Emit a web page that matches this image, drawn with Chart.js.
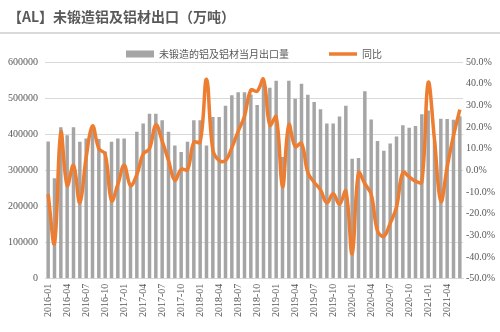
<!DOCTYPE html>
<html>
<head>
<meta charset="utf-8">
<script src="https://cdn.jsdelivr.net/npm/chart.js@4.4.1/dist/chart.umd.min.js"></script>
<style>
html,body{margin:0;padding:0;background:#fff;}
#wrap{width:500px;height:332px;position:relative;}
</style>
</head>
<body>
<div id="wrap"><canvas id="c" width="500" height="332"></canvas></div>
<script>
// ---- data ----
const chartTitle = '【AL】未锻造铝及铝材出口（万吨）';
const barLabel = '未锻造的铝及铝材当月出口量';
const lineLabel = '同比';

const months = [
  '2016-01','2016-02','2016-03','2016-04','2016-05','2016-06','2016-07','2016-08','2016-09','2016-10','2016-11','2016-12',
  '2017-01','2017-02','2017-03','2017-04','2017-05','2017-06','2017-07','2017-08','2017-09','2017-10','2017-11','2017-12',
  '2018-01','2018-02','2018-03','2018-04','2018-05','2018-06','2018-07','2018-08','2018-09','2018-10','2018-11','2018-12',
  '2019-01','2019-02','2019-03','2019-04','2019-05','2019-06','2019-07','2019-08','2019-09','2019-10','2019-11','2019-12',
  '2020-01','2020-02','2020-03','2020-04','2020-05','2020-06','2020-07','2020-08','2020-09','2020-10','2020-11','2020-12',
  '2021-01','2021-02','2021-03','2021-04','2021-05','2021-06'
];

const exportVolume = [
  380000, 278000, 419000, 397000, 419000, 379000, 388000, 415000, 387000, 352000, 379000, 388000,
  388000, 260000, 407000, 430000, 457000, 457000, 439000, 407000, 369000, 351000, 379000, 439000,
  439000, 369000, 448000, 448000, 479000, 508000, 516000, 516000, 510000, 481000, 538000, 529000,
  548000, 337000, 548000, 498000, 540000, 509000, 489000, 469000, 430000, 430000, 449000, 479000,
  332000, 334000, 519000, 441000, 381000, 354000, 374000, 394000, 425000, 418000, 423000, 455000,
  466000, 380000, 443000, 442000, 440000, 450000
];

const yoyPct = [
  -11.0, -33.6, 17.5, -7.0, 2.3, -15.0, 6.0, 20.5, 10.0, 7.5, -14.0, -6.5,
  2.3, -7.0, -2.0, 7.5, 10.0, 21.0, 13.5, 4.5, -4.6, 0.5, 0.3, 13.0,
  13.0, 42.0, 9.5, 4.5, 4.5, 10.5, 18.0, 25.0, 37.0, 36.5, 42.0, 20.8,
  24.7, -7.7, 21.0, 11.0, 12.5, -1.0, -5.5, -9.0, -15.0, -10.8, -15.7, -9.6,
  -38.5, -1.2, -6.2, -11.0, -28.0, -30.4, -24.5, -17.0, -1.0, -3.0, -5.0, -5.4,
  40.5, 14.0, -14.3, 1.5, 16.0, 28.0
];

const leftAxis = { min: 0, max: 600000, step: 100000 };
const rightAxis = { min: -50, max: 50, step: 10 };
const labelEvery = 3;

// ---- styles ----
const GREY_BAR = '#a5a5a5';
const ORANGE = '#ed7d31';
const TEXT = '#595959';
const GRID = '#d9d9d9';
const SERIF = '"Liberation Serif", "Times New Roman", serif';
const CJK = '"Noto Sans CJK SC", "Noto Sans", sans-serif';

const separator = {
  id: 'separator',
  beforeDraw(chart) {
    const ctx = chart.ctx;
    ctx.save();
    ctx.fillStyle = '#ffffff';
    ctx.fillRect(0, 0, chart.width, chart.height);
    ctx.strokeStyle = GRID;
    ctx.lineWidth = 2;
    ctx.beginPath();
    ctx.moveTo(0, 33);
    ctx.lineTo(chart.width, 33);
    ctx.stroke();
    ctx.restore();
  }
};

new Chart(document.getElementById('c'), {
  type: 'bar',
  data: {
    labels: months,
    datasets: [
      {
        type: 'bar',
        label: barLabel,
        data: exportVolume,
        backgroundColor: GREY_BAR,
        borderWidth: 0,
        yAxisID: 'y',
        categoryPercentage: 1.0,
        barPercentage: 0.55,
        order: 2
      },
      {
        type: 'line',
        label: lineLabel,
        data: yoyPct,
        borderColor: ORANGE,
        backgroundColor: ORANGE,
        borderWidth: 3.5,
        pointRadius: 0,
        tension: 0.4,
        fill: false,
        yAxisID: 'y1',
        order: 1
      }
    ]
  },
  options: {
    responsive: false,
    animation: false,
    devicePixelRatio: 1,
    layout: { padding: { left: 8, right: 0, top: 0, bottom: 10 } },
    plugins: {
      tooltip: { enabled: false },
      title: {
        display: true,
        text: chartTitle,
        align: 'start',
        color: TEXT,
        font: { family: CJK, size: 14, weight: 'bold', lineHeight: 1.2 },
        padding: { top: 8, bottom: -15.8 }
      },
      legend: {
        display: true,
        position: 'top',
        fullSize: false,
        maxHeight: 53,
        labels: {
          usePointStyle: true,
          pointStyleWidth: 28,
          boxHeight: 7,
          padding: 40,
          color: TEXT,
          font: { family: CJK, size: 10 },
          sort: (a, b) => a.datasetIndex - b.datasetIndex,
          generateLabels(chart) {
            const items = Chart.defaults.plugins.legend.labels.generateLabels(chart);
            items.forEach(it => {
              if (it.datasetIndex === 0) { it.pointStyle = 'rect'; it.lineWidth = 0; }
              else { it.pointStyle = 'line'; }
            });
            return items;
          }
        }
      }
    },
    scales: {
      x: {
        offset: true,
        grid: { display: false, drawTicks: false },
        border: { display: true, color: GRID, width: 1 },
        ticks: {
          autoSkip: false,
          minRotation: 90,
          maxRotation: 90,
          padding: 5,
          color: TEXT,
          font: { family: SERIF, size: 10 },
          callback: (v, i) => (i % labelEvery === 0 ? months[i] : '')
        }
      },
      y: {
        position: 'left',
        min: leftAxis.min,
        max: leftAxis.max,
        afterFit: s => { s.width = 37; },
        grid: { color: GRID, lineWidth: 1, drawTicks: false },
        border: { display: false },
        ticks: {
          stepSize: leftAxis.step,
          padding: 7,
          color: TEXT,
          font: { family: SERIF, size: 10 },
          callback: v => String(v)
        }
      },
      y1: {
        position: 'right',
        min: rightAxis.min,
        max: rightAxis.max,
        afterFit: s => { s.width = 37; },
        grid: { drawOnChartArea: false, drawTicks: false },
        border: { display: false },
        ticks: {
          stepSize: rightAxis.step,
          padding: 3,
          color: TEXT,
          font: { family: SERIF, size: 10 },
          callback: v => v.toFixed(1) + '%'
        }
      }
    }
  },
  plugins: [separator]
});
</script>
</body>
</html>
